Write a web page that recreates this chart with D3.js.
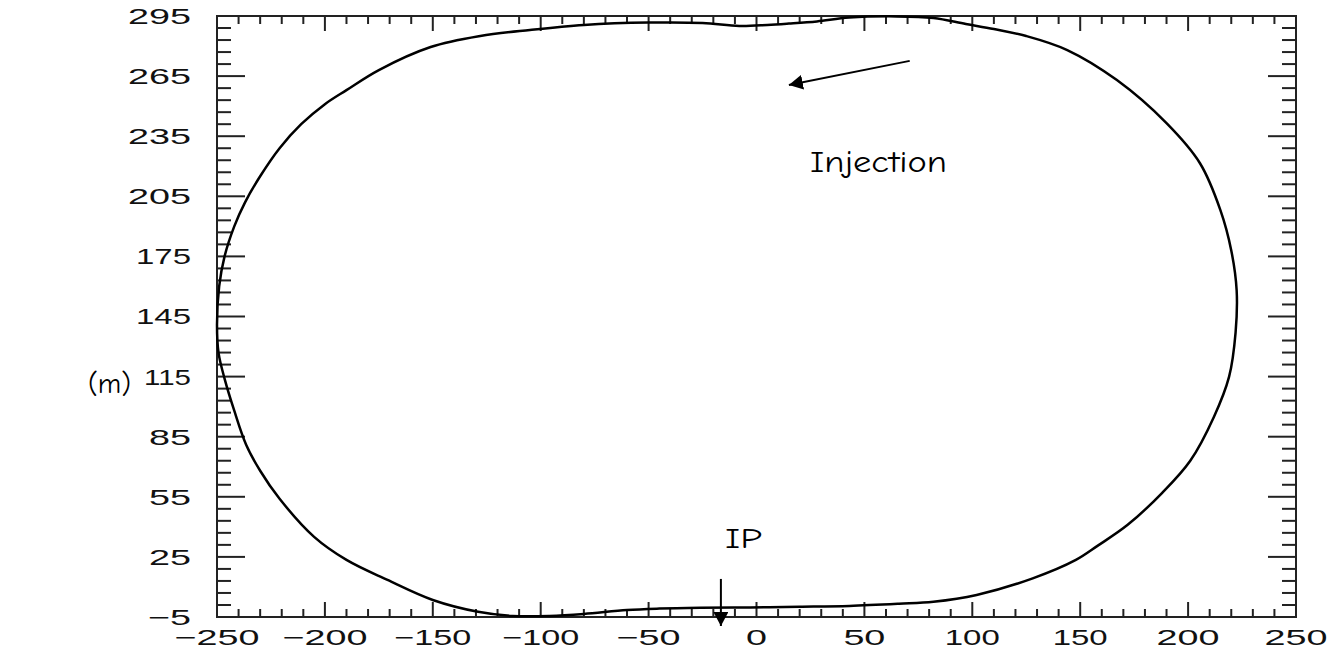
<!DOCTYPE html>
<html>
<head>
<meta charset="utf-8">
<script src="https://cdn.jsdelivr.net/npm/d3@7"></script>
<style>
  html, body { margin: 0; padding: 0; background: #fff; }
  svg { display: block; }
  .tick-label { font-family: "Liberation Sans", Arial, sans-serif; font-size: 22px; fill: #111; }
  .note { font-family: "Comic Sans MS", "Comic Neue", "DejaVu Sans", sans-serif; fill: #000; }
</style>
</head>
<body>
<svg id="chart" width="1327" height="649"></svg>
<script>
// orbit outline, x and y in metres (clockwise from the leftmost point)
const orbitX = [-250, -249, -246.5, -242, -237, -230, -221, -211, -200, -190, -175, -151, -128, -105, -80, -50, -25, -8,
  5, 15, 28, 43, 65, 82, 97, 110, 125, 144, 167, 190, 205.5, 215, 220, 222.5, 222, 219, 212, 201, 188, 172, 158, 148,
  128, 102, 82, 66, 43, 20, -3, -26, -45, -60, -80, -96, -113, -129, -150, -171, -190, -205, -221, -230, -236.5, -242,
  -246.5, -249.3];
const orbitY = [141, 160, 175, 190, 202, 215, 229, 241, 251, 258, 268, 279.5, 285, 288, 290.5, 291.7, 291.5, 290,
  290.5, 291.2, 292.3, 294.2, 294.8, 294, 291, 288.5, 285, 278, 263, 241.5, 221.5, 198, 178, 158, 137, 115, 95, 73,
  57, 41, 30.5, 23.5, 14.3, 6, 2.6, 1.6, 0.5, 0.1, -0.2, -0.4, -0.8, -1.5, -3.5, -4.5, -4.5, -2.4, 3.5, 13.5, 23.5,
  35, 54, 68, 81, 98, 114, 127];

const xTicks = [-250, -200, -150, -100, -50, 0, 50, 100, 150, 200, 250];
const yTicks = [-5, 25, 55, 85, 115, 145, 175, 205, 235, 265, 295];
const xMinor = d3.range(-250, 251, 10).filter(v => !xTicks.includes(v));
const yMinor = d3.range(-5, 296, 6).filter(v => !yTicks.includes(v));

const svg = d3.select("#chart");
const plotLeft = 217, plotRight = 1296, plotTop = 16, plotBottom = 617;

const x = d3.scaleLinear().domain([-250, 250]).range([plotLeft, plotRight]);
const y = d3.scaleLinear().domain([-5, 295]).range([plotBottom, plotTop]);

// ticks, all pointing into the frame
const tickG = svg.append("g").attr("stroke", "#222").attr("stroke-width", 2);

function xTickMarks(values, len) {
  tickG.selectAll(null).data(values).enter().append("line")
    .attr("x1", d => x(d)).attr("x2", d => x(d))
    .attr("y1", plotBottom).attr("y2", plotBottom - len);
  tickG.selectAll(null).data(values).enter().append("line")
    .attr("x1", d => x(d)).attr("x2", d => x(d))
    .attr("y1", plotTop).attr("y2", plotTop + len);
}
function yTickMarks(values, len) {
  tickG.selectAll(null).data(values).enter().append("line")
    .attr("y1", d => y(d)).attr("y2", d => y(d))
    .attr("x1", plotLeft).attr("x2", plotLeft + len);
  tickG.selectAll(null).data(values).enter().append("line")
    .attr("y1", d => y(d)).attr("y2", d => y(d))
    .attr("x1", plotRight).attr("x2", plotRight - len);
}
xTickMarks(xTicks, 15);
xTickMarks(xMinor, 8);
yTickMarks(yTicks, 28);
yTickMarks(yMinor, 14);

svg.append("rect")
  .attr("x", plotLeft).attr("y", plotTop)
  .attr("width", plotRight - plotLeft).attr("height", plotBottom - plotTop)
  .attr("fill", "none").attr("stroke", "#222").attr("stroke-width", 2);

// tick labels, wide plotter style: "1" is narrow, other digits are wide
const fmt = d => (d < 0 ? "\u2212" + Math.abs(d) : String(d));
const labelWidth = s => d3.sum(s.split(""), c => (c === "1" ? 13 : c === "\u2212" ? 22 : 21));
svg.append("g").selectAll("text").data(xTicks).enter().append("text")
  .attr("class", "tick-label")
  .attr("text-anchor", "middle")
  .attr("x", d => x(d)).attr("y", 645)
  .attr("textLength", d => labelWidth(fmt(d)))
  .attr("lengthAdjust", "spacingAndGlyphs")
  .text(fmt);
svg.append("g").selectAll("text").data(yTicks).enter().append("text")
  .attr("class", "tick-label")
  .attr("text-anchor", "end")
  .attr("x", 191).attr("y", d => y(d))
  .attr("dy", "0.36em")
  .attr("textLength", d => labelWidth(fmt(d)))
  .attr("lengthAdjust", "spacingAndGlyphs")
  .text(fmt);

// the orbit
const pts = orbitX.map((v, i) => [v, orbitY[i]]);
const line = d3.line()
  .x(d => x(d[0]))
  .y(d => y(d[1]))
  .curve(d3.curveCatmullRomClosed.alpha(0.5));
svg.append("path")
  .datum(pts)
  .attr("d", line)
  .attr("fill", "none")
  .attr("stroke", "#000")
  .attr("stroke-width", 2.5);

// annotations
const defs = svg.append("defs");
defs.append("marker")
  .attr("id", "head")
  .attr("viewBox", "0 0 14 15")
  .attr("refX", 14).attr("refY", 7.5)
  .attr("markerUnits", "userSpaceOnUse")
  .attr("orient", "auto")
  .attr("markerWidth", 14).attr("markerHeight", 15)
  .append("path").attr("d", "M0,0 L14,7.5 L0,15 Z").attr("fill", "#000");

svg.append("line")
  .attr("x1", x(71)).attr("y1", y(272.6))
  .attr("x2", x(15)).attr("y2", y(260.6))
  .attr("stroke", "#000").attr("stroke-width", 2)
  .attr("marker-end", "url(#head)");
svg.append("line")
  .attr("x1", x(-16.5)).attr("y1", y(14))
  .attr("x2", x(-16.5)).attr("y2", y(-9.5))
  .attr("stroke", "#000").attr("stroke-width", 2)
  .attr("marker-end", "url(#head)");

svg.append("text").attr("class", "note")
  .attr("x", x(24.8)).attr("y", y(217.2))
  .attr("font-size", 30)
  .attr("textLength", 137).attr("lengthAdjust", "spacingAndGlyphs")
  .text("Injection");
svg.append("text").attr("class", "note")
  .attr("x", x(-14.6)).attr("y", y(29.4))
  .attr("font-size", 28)
  .attr("textLength", 37).attr("lengthAdjust", "spacingAndGlyphs")
  .text("IP");
svg.append("text").attr("class", "note")
  .attr("x", 88).attr("y", 393)
  .attr("font-size", 28)
  .attr("textLength", 43).attr("lengthAdjust", "spacingAndGlyphs")
  .text("(m)");
</script>
</body>
</html>
